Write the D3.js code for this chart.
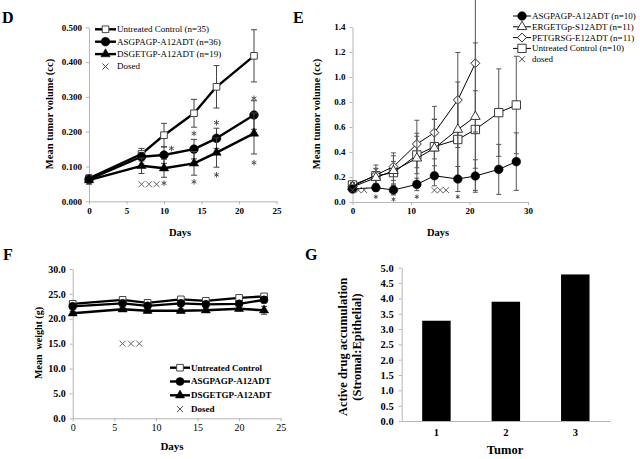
<!DOCTYPE html>
<html>
<head>
<meta charset="utf-8">
<script src="https://cdn.jsdelivr.net/npm/d3@7"></script>
<style>
body { margin: 0; background: #fff; }
svg text { font-family: "Liberation Serif", "Times New Roman", serif; fill: #000; }
.axis path, .axis line { stroke: #b5b5b5; }
.axis text { font-weight: bold; }
</style>
</head>
<body>
<svg id="fig" width="640" height="459"></svg>
<script>
// Panel D - mean tumor volume (cc)
var dDays = [0, 7, 10, 14, 17, 22];
var dControl = [0.066, 0.136, 0.190, 0.253, 0.329, 0.418];
var dControlErr = [0.010, 0.016, 0.034, 0.040, 0.061, 0.075];
var dAsgpagp = [0.063, 0.128, 0.133, 0.150, 0.181, 0.248];
var dAsgpagpErr = [0.010, 0.012, 0.024, 0.028, 0.029, 0.041];
var dDsgetgp = [0.061, 0.102, 0.095, 0.109, 0.140, 0.195];
var dDsgetgpErr = [0.012, 0.022, 0.026, 0.034, 0.042, 0.059];
var dDosedDays = [7, 8, 9];
var dDosedVal = 0.049;
var dStarDays = [11, 10, 14, 14, 17, 17, 22, 22];
var dStarVals = [0.152, 0.052, 0.195, 0.056, 0.226, 0.076, 0.296, 0.111];
var dLegend = ["Untreated Control (n=35)", "ASGPAGP-A12ADT (n=36)", "DSGETGP-A12ADT (n=19)", "Dosed"];
var dYTicks = [0, 0.1, 0.2, 0.3, 0.4, 0.5];
var dXTicks = [0, 5, 10, 15, 20, 25];

// Panel E - mean tumor volume (cc)
var eDays = [0, 4, 7, 11, 14, 18, 21, 25, 28];
var eAsgpagp = [0.104, 0.115, 0.096, 0.141, 0.210, 0.184, 0.208, 0.261, 0.323];
var eAsgpagpErr = [0.02, 0.03, 0.04, 0.05, 0.08, 0.10, 0.13, 0.20, 0.23];
var eErgetgp = [0.120, 0.195, 0.250, 0.350, 0.430, 0.580, 0.683];
var eErgetgpErr = [0.03, 0.07, 0.12, 0.20, 0.23, 0.38, 0.59];
var ePetgrsg = [0.125, 0.216, 0.283, 0.464, 0.555, 0.816, 1.110];
var ePetgrsgErr = [0.03, 0.08, 0.11, 0.19, 0.21, 0.38, 0.55];
var eControl = [0.136, 0.210, 0.235, 0.376, 0.443, 0.500, 0.580, 0.715, 0.776];
var eControlErr = [0.03, 0.06, 0.09, 0.15, 0.22, 0.30, 0.31, 0.35, 0.39];
var eDosedDays = [0, 1, 2, 14, 15, 16];
var eDosedVal = 0.095;
var eStarDays = [4, 7, 11, 18];
var eStarVals = [0.042, 0.021, 0.042, 0.042];
var eLegend = ["ASGPAGP-A12ADT (n=10)", "ERGETGp-S12ADT (n=11)", "PETGRSG-E12ADT (n=11)", "Untreated Control (n=10)", "dosed"];
var eYTicks = [0, 0.2, 0.4, 0.6, 0.8, 1.0, 1.2, 1.4];
var eXTicks = [0, 10, 20, 30];

// Panel F - mean weight (g)
var fDays = [0, 6, 9, 13, 16, 20, 23];
var fControl = [23.0, 23.8, 23.2, 23.9, 23.6, 24.2, 24.5];
var fControlErr = [0.4, 0.4, 0.4, 0.4, 0.4, 0.4, 0.5];
var fAsgpagp = [22.5, 23.1, 22.6, 23.1, 22.9, 23.0, 23.8];
var fAsgpagpErr = [0.4, 0.4, 0.4, 0.4, 0.4, 0.4, 0.6];
var fDsgetgp = [21.1, 21.9, 21.6, 21.6, 21.7, 22.0, 21.7];
var fDsgetgpErr = [0.4, 0.4, 0.4, 0.4, 0.4, 0.4, 0.8];
var fDosedDays = [6, 7, 8];
var fDosedVal = 15.0;
var fLegend = ["Untreated Control", "ASGPAGP-A12ADT", "DSGETGP-A12ADT", "Dosed"];
var fYTicks = [0, 5, 10, 15, 20, 25, 30];
var fXTicks = [0, 5, 10, 15, 20, 25];

// Panel G - stromal:epithelial accumulation
var gTumors = ["1", "2", "3"];
var gValues = [3.27, 3.89, 4.78];
var gYTicks = [0, 0.5, 1, 1.5, 2, 2.5, 3, 3.5, 4, 4.5, 5];

var svg = d3.select("#fig");

//Markers
var sym = {
	square: d3.symbol().type(d3.symbolSquare),
	circle: d3.symbol().type(d3.symbolCircle),
	triangle: d3.symbol().type(d3.symbolTriangle)
};
var crossPath = "M-3,-3L3,3M-3,3L3,-3";

//six-armed asterisk, r = half width
function starPath(r){
	var c = r * Math.cos(Math.PI / 6), s = r * Math.sin(Math.PI / 6);
	return "M0," + (-r) + "L0," + r +
		"M" + (-c) + "," + (-s) + "L" + c + "," + s +
		"M" + (-c) + "," + s + "L" + c + "," + (-s);
}

function drawAxes(x, y, o){
	var gx = svg.append("g")
		.attr("class", "axis")
		.attr("transform", "translate(0," + y.range()[0] + ")")
		.call(d3.axisBottom(x).tickValues(o.xTicks).tickSize(3).tickSizeOuter(0).tickPadding(3));
	gx.selectAll("text")
		.style("font-size", o.xFont + "px")
		.style("font-weight", o.xBold === false ? "normal" : "bold");

	var gy = svg.append("g")
		.attr("class", "axis")
		.attr("transform", "translate(" + x.range()[0] + ",0)")
		.call(d3.axisLeft(y).tickValues(o.yTicks).tickFormat(d3.format(o.yFormat)).tickSize(3).tickSizeOuter(0).tickPadding(4));
	gy.selectAll("text").style("font-size", o.yFont + "px");
}

function drawSeries(x, y, days, vals, errs, o){
	var pts = vals.map(function(v, i){ return {d: days[i], v: v, e: errs[i]}; });
	var g = svg.append("g");

	//Error bars
	var eb = g.append("g")
		.attr("stroke", o.errColor)
		.attr("stroke-width", 1);
	eb.selectAll(".v").data(pts).enter().append("line")
		.attr("x1", function(p){ return x(p.d); })
		.attr("x2", function(p){ return x(p.d); })
		.attr("y1", function(p){ return y(p.v + p.e); })
		.attr("y2", function(p){ return y(p.v - p.e); });
	[1, -1].forEach(function(sgn){
		eb.selectAll(".c").data(pts).enter().append("line")
			.attr("x1", function(p){ return x(p.d) - o.cap; })
			.attr("x2", function(p){ return x(p.d) + o.cap; })
			.attr("y1", function(p){ return y(p.v + sgn * p.e); })
			.attr("y2", function(p){ return y(p.v + sgn * p.e); });
	});

	//Line
	g.append("path")
		.datum(pts)
		.attr("fill", "none")
		.attr("stroke", "#000")
		.attr("stroke-width", o.lineWidth)
		.attr("stroke-linejoin", "round")
		.attr("d", d3.line().x(function(p){ return x(p.d); }).y(function(p){ return y(p.v); }));

	//Points
	g.selectAll(".m").data(pts).enter().append("path")
		.attr("transform", function(p){ return "translate(" + x(p.d) + "," + y(p.v) + ")" + (o.rotate ? "rotate(45)" : ""); })
		.attr("d", o.shape.size(o.size)())
		.attr("fill", o.fill)
		.attr("stroke", o.stroke)
		.attr("stroke-width", o.strokeWidth);
}

function drawCrosses(x, y, days, val, color){
	svg.append("g").selectAll("path").data(days).enter().append("path")
		.attr("transform", function(d){ return "translate(" + x(d) + "," + y(val) + ")"; })
		.attr("d", crossPath)
		.attr("fill", "none")
		.attr("stroke", color)
		.attr("stroke-width", 0.9);
}

function drawStars(x, y, days, vals, r){
	svg.append("g").selectAll("path").data(days).enter().append("path")
		.attr("transform", function(d, i){ return "translate(" + x(d) + "," + y(vals[i]) + ")"; })
		.attr("d", starPath(r))
		.attr("fill", "none")
		.attr("stroke", "#444")
		.attr("stroke-width", 0.9);
}

function legendRow(lx, ly, len, label, o){
	var g = svg.append("g");
	if (o.line){
		g.append("line")
			.attr("x1", lx).attr("x2", lx + len)
			.attr("y1", ly).attr("y2", ly)
			.attr("stroke", "#000").attr("stroke-width", o.lineWidth);
		g.append("path")
			.attr("transform", "translate(" + (lx + len / 2) + "," + ly + ")" + (o.rotate ? "rotate(45)" : ""))
			.attr("d", o.shape.size(o.size)())
			.attr("fill", o.fill).attr("stroke", o.stroke).attr("stroke-width", o.strokeWidth);
	}else{
		g.append("path")
			.attr("transform", "translate(" + (lx + len / 2) + "," + ly + ")")
			.attr("d", crossPath)
			.attr("fill", "none").attr("stroke", "#333").attr("stroke-width", 0.9);
	}
	g.append("text")
		.attr("x", lx + len + 1)
		.attr("y", ly)
		.attr("dy", "0.33em")
		.style("font-size", o.font + "px")
		.style("font-weight", o.bold ? "bold" : "normal")
		.text(label);
}

function panelLabel(txt, x, y){
	svg.append("text").attr("x", x).attr("y", y)
		.style("font-size", "16px").style("font-weight", "bold").text(txt);
}

function axisTitle(txt, x, y, size, rotate){
	svg.append("text")
		.attr("text-anchor", "middle")
		.attr("transform", "translate(" + x + "," + y + ")" + (rotate ? "rotate(-90)" : ""))
		.style("font-size", size + "px")
		.style("font-weight", "bold")
		.style("white-space", "pre")
		.text(txt);
}

// ---------- D ----------
var xD = d3.scaleLinear().domain([0, 25]).range([89, 276.5]);
var yD = d3.scaleLinear().domain([0, 0.5]).range([201.3, 27.3]);
drawAxes(xD, yD, {xTicks: dXTicks, yTicks: dYTicks, yFormat: ".3f", xFont: 9, yFont: 9});

var dStyles = [
	{shape: sym.square, size: 44, fill: "#fff", stroke: "#444", strokeWidth: 1},
	{shape: sym.circle, size: 60, fill: "#000", stroke: "#000", strokeWidth: 0.5},
	{shape: sym.triangle, size: 38, fill: "#000", stroke: "#000", strokeWidth: 0.5}
];
[[dControl, dControlErr], [dAsgpagp, dAsgpagpErr], [dDsgetgp, dDsgetgpErr]].forEach(function(s, i){
	drawSeries(xD, yD, dDays, s[0], s[1], Object.assign({errColor: "#444", cap: 3, lineWidth: 2.4}, dStyles[i]));
});
drawCrosses(xD, yD, dDosedDays, dDosedVal, "#555");
drawStars(xD, yD, dStarDays, dStarVals, 2.8);
dLegend.forEach(function(lab, i){
	legendRow(95, 29.3 + i * 12.4, 21, lab, Object.assign({line: i < 3, lineWidth: 2.4, font: 9}, dStyles[i] || {}));
});
panelLabel("D", 2, 23);
axisTitle("Mean tumor volume (cc)", 53, 114, 10.5, true);
axisTitle("Days", 180, 236, 10.5, false);

// ---------- E ----------
var xE = d3.scaleLinear().domain([0, 30]).range([352.5, 528]);
var yE = d3.scaleLinear().domain([0, 1.4]).range([202, 27]);
drawAxes(xE, yE, {xTicks: eXTicks, yTicks: eYTicks, yFormat: ".1f", xFont: 9, yFont: 9});

var eStyles = [
	{shape: sym.circle, size: 60, fill: "#000", stroke: "#000", strokeWidth: 0.5},
	{shape: sym.triangle, size: 40, fill: "#fff", stroke: "#222", strokeWidth: 0.9},
	{shape: sym.square, size: 40, fill: "#fff", stroke: "#222", strokeWidth: 0.9, rotate: true},
	{shape: sym.square, size: 70, fill: "#fff", stroke: "#222", strokeWidth: 0.9}
];
var eSeries = [[eAsgpagp, eAsgpagpErr], [eErgetgp, eErgetgpErr], [ePetgrsg, ePetgrsgErr], [eControl, eControlErr]];
var eBase = {errColor: "#555", cap: 2.5, lineWidth: 1};
//draw in reverse so the filled circles sit on top
eSeries.slice().reverse().forEach(function(s, j){
	var i = eSeries.length - 1 - j;
	drawSeries(xE, yE, eDays.slice(0, s[0].length), s[0], s[1], Object.assign({}, eBase, eStyles[i]));
});
drawCrosses(xE, yE, eDosedDays, eDosedVal, "#555");
drawStars(xE, yE, eStarDays, eStarVals, 2.2);
eLegend.forEach(function(lab, i){
	legendRow(513, 16 + i * 10.8, 18, lab, Object.assign({line: i < 4, lineWidth: 1, font: 9}, eStyles[i] || {}));
});
panelLabel("E", 293, 23);
axisTitle("Mean tumor volume (cc)", 320, 114, 10.5, true);
axisTitle("Days", 438, 236, 10.5, false);

// ---------- F ----------
var xF = d3.scaleLinear().domain([0, 25]).range([72.7, 280.7]);
var yF = d3.scaleLinear().domain([0, 30]).range([418.3, 269]);
drawAxes(xF, yF, {xTicks: fXTicks, yTicks: fYTicks, yFormat: ".1f", xFont: 10, yFont: 10, xBold: false});

var fStyles = [
	{shape: sym.square, size: 44, fill: "#fff", stroke: "#444", strokeWidth: 1},
	{shape: sym.circle, size: 50, fill: "#000", stroke: "#000", strokeWidth: 0.5},
	{shape: sym.triangle, size: 36, fill: "#000", stroke: "#000", strokeWidth: 0.5}
];
[[fControl, fControlErr], [fAsgpagp, fAsgpagpErr], [fDsgetgp, fDsgetgpErr]].forEach(function(s, i){
	drawSeries(xF, yF, fDays, s[0], s[1], Object.assign({errColor: "#444", cap: 3, lineWidth: 2.4}, fStyles[i]));
});
drawCrosses(xF, yF, fDosedDays, fDosedVal, "#555");
fLegend.forEach(function(lab, i){
	legendRow(170, 367.7 + i * 13.8, 20, lab, Object.assign({line: i < 3, lineWidth: 2.4, font: 9, bold: true}, fStyles[i] || {}));
});
panelLabel("F", 3, 260);
axisTitle("Mean\u00a0 weight (g)", 42, 343, 10, true);
axisTitle("Days", 172, 450, 11, false);

// ---------- G ----------
var xG = d3.scaleBand().domain(gTumors).range([401.7, 610]).paddingInner(0.59).paddingOuter(0.295);
var yG = d3.scaleLinear().domain([0, 5]).range([421, 267.7]);
var gxAxis = svg.append("g")
	.attr("class", "axis")
	.attr("transform", "translate(0," + yG(0) + ")")
	.call(d3.axisBottom(xG).tickSize(0).tickPadding(8));
gxAxis.selectAll("text").style("font-size", "10.5px");
var gyAxis = svg.append("g")
	.attr("class", "axis")
	.attr("transform", "translate(" + xG.range()[0] + ",0)")
	.call(d3.axisLeft(yG).tickValues(gYTicks).tickFormat(d3.format(".1f")).tickSize(3).tickSizeOuter(0).tickPadding(5));
gyAxis.selectAll("text").style("font-size", "10.5px");

svg.append("g").selectAll("rect").data(gValues).enter().append("rect")
	.attr("x", function(d, i){ return xG(gTumors[i]); })
	.attr("y", function(d){ return yG(d); })
	.attr("width", xG.bandwidth())
	.attr("height", function(d){ return yG(0) - yG(d); })
	.attr("fill", "#000");

panelLabel("G", 305, 260);
svg.append("text")
	.attr("text-anchor", "middle")
	.attr("transform", "translate(347,347)rotate(-90)")
	.style("font-size", "12.5px").style("font-weight", "bold")
	.text("Active drug accumulation");
svg.append("text")
	.attr("text-anchor", "middle")
	.attr("transform", "translate(361,347)rotate(-90)")
	.style("font-size", "12.5px").style("font-weight", "bold")
	.text("(Stromal:Epithelial)");
axisTitle("Tumor", 505, 454, 12.5, false);
</script>
</body>
</html>
